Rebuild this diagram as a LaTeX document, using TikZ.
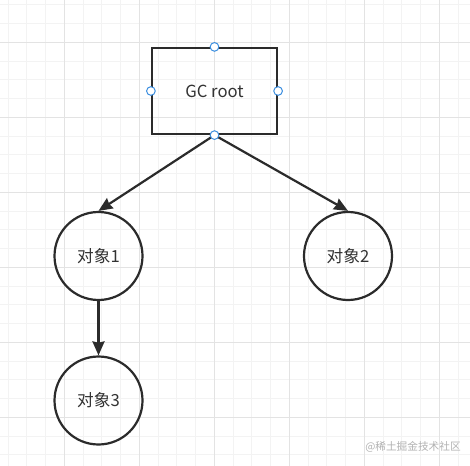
\documentclass[tikz,border=0pt]{standalone}
\usepackage{fontspec}
\usepackage{tikz}
\usetikzlibrary{arrows.meta}
\newfontfamily\cjk{Noto Sans CJK SC}
\definecolor{gridminor}{HTML}{F3F3F3}
\definecolor{gridmajor}{HTML}{E3E3E3}
\definecolor{inktext}{HTML}{333333}
\definecolor{inkline}{HTML}{2B2B2B}
\definecolor{handleblue}{HTML}{3D8FE0}

\begin{document}
\begin{tikzpicture}[x=0.75pt,y=-0.75pt,>={Stealth[length=10.5pt,width=9pt,inset=1pt]},line width=1.65pt,
        rootbox/.style={draw=inkline, minimum width=93.75pt, minimum height=64.5pt, text=inktext, font=\cjk\fontsize{12.5}{15}\selectfont},
        objnode/.style={draw=inkline, circle, minimum size=66pt, inner sep=0pt, text=inktext, font=\cjk\fontsize{12.5}{15}\selectfont},
        handle/.style={draw=handleblue, fill=white, circle, line width=0.75pt, minimum size=6.5pt, inner sep=0pt}]
        \fill[white] (0,0) rectangle (470,466);
        \useasboundingbox (0,0) rectangle (470,466);
        \foreach \k in {0,...,24} {
            \draw[gridminor, line width=0.75pt] ({8.05+18.75*\k},0) -- ({8.05+18.75*\k},466);
            \draw[gridminor, line width=0.75pt] (0,{4.8+18.75*\k}) -- (470,{4.8+18.75*\k});
        }
        \foreach \k in {0,...,5} {
            \draw[gridmajor, line width=0.75pt] ({64.3+75*\k},0) -- ({64.3+75*\k},466);
            \draw[gridmajor, line width=0.75pt] (0,{42.3+75*\k}) -- (470,{42.3+75*\k});
        }
        \node (root) [rootbox] at (214.5,91) {GC root};
        \node (obj1) [objnode] at (98.5,256) {对象1};
        \node (obj2) [objnode] at (348,256) {对象2};
        \node (obj3) [objnode] at (98.5,400.5) {对象3};
        \draw[->, inkline] (root.south) -- (obj1.north);
        \draw[->, inkline] (root.south) -- (obj2.north);
        \draw[->, inkline] (obj1.south) -- (obj3.north);
        \node (htop) [handle] at (root.north) {};
        \node (hleft) [handle] at (root.west) {};
        \node (hright) [handle] at (root.east) {};
        \node (hbottom) [handle] at (root.south) {};
        \node (mark) [text=black!30, font=\cjk\fontsize{8}{10}\selectfont] at (413,447) {@稀土掘金技术社区};
    \end{tikzpicture}
\end{document}
